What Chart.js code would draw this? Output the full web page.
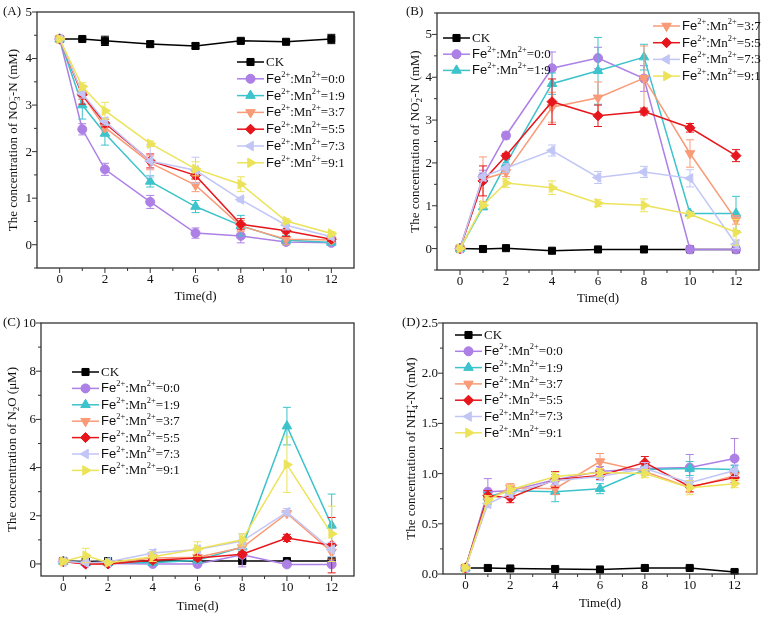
<!DOCTYPE html>
<html>
<head>
<meta charset="utf-8">
<script src="https://cdn.jsdelivr.net/npm/chart.js@4.4.0/dist/chart.umd.min.js"></script>
<style>
  html, body { margin: 0; padding: 0; background: #fff; }
  #wrap { position: relative; width: 767px; height: 623px; }
  #wrap canvas { position: absolute; left: 0; top: 0; }
</style>
</head>
<body>
<div id="wrap">
  <canvas id="chartA" width="767" height="623"></canvas>
  <canvas id="chartB" width="767" height="623"></canvas>
  <canvas id="chartC" width="767" height="623"></canvas>
  <canvas id="chartD" width="767" height="623"></canvas>
</div>
<script>
// sampling days and treatments
const days = [0, 1, 2, 4, 6, 8, 10, 12];
const ratios = ['0:0', '1:9', '3:7', '5:5', '7:3', '9:1'];
const xTicks = [0, 2, 4, 6, 8, 10, 12];
const xMinor = [1, 3, 5, 7, 9, 11];

// (A) NO3- -N (mM): CK, 0:0, 1:9, 3:7, 5:5, 7:3, 9:1
const no3Values = [
  [4.42, 4.42, 4.38, 4.31, 4.27, 4.38, 4.36, 4.42],
  [4.42, 2.48, 1.62, 0.92, 0.25, 0.19, 0.06, 0.04],
  [4.42, 3.00, 2.39, 1.36, 0.82, 0.41, 0.10, 0.05],
  [4.42, 3.22, 2.52, 1.76, 1.28, 0.40, 0.12, 0.10],
  [4.42, 3.22, 2.61, 1.80, 1.49, 0.44, 0.30, 0.12],
  [4.42, 3.25, 2.65, 1.80, 1.60, 0.97, 0.42, 0.17],
  [4.42, 3.40, 2.88, 2.17, 1.63, 1.30, 0.51, 0.24]
];
const no3Errors = [
  [0.03, 0.04, 0.10, 0.06, 0.06, 0.04, 0.04, 0.10],
  [0.03, 0.12, 0.13, 0.14, 0.11, 0.15, 0.05, 0.04],
  [0.03, 0.30, 0.25, 0.12, 0.13, 0.22, 0.10, 0.05],
  [0.03, 0.10, 0.08, 0.15, 0.14, 0.12, 0.12, 0.05],
  [0.03, 0.20, 0.08, 0.15, 0.08, 0.12, 0.12, 0.05],
  [0.03, 0.10, 0.08, 0.35, 0.28, 0.05, 0.10, 0.05],
  [0.03, 0.08, 0.18, 0.06, 0.15, 0.16, 0.05, 0.04]
];
const no3Ticks = [0, 1, 2, 3, 4, 5];
const no3Minor = [-0.5, 0.5, 1.5, 2.5, 3.5, 4.5];

// (B) NO2- -N (mM)
const no2Values = [
  [0, -0.01, 0.01, -0.05, -0.02, -0.02, -0.02, -0.02],
  [0, 1.68, 2.64, 4.21, 4.45, 3.97, -0.02, -0.02],
  [0, 0.97, 1.98, 3.85, 4.15, 4.47, 0.82, 0.82],
  [0, 1.62, 1.78, 3.30, 3.52, 3.98, 2.22, 0.67],
  [0, 1.58, 2.17, 3.43, 3.10, 3.20, 2.82, 2.17],
  [0, 1.68, 1.88, 2.29, 1.66, 1.79, 1.64, 0.10],
  [0, 1.01, 1.53, 1.42, 1.06, 1.01, 0.80, 0.38]
];
const no2Errors = [
  [0.02, 0.03, 0.03, 0.05, 0.03, 0.03, 0.02, 0.02],
  [0.02, 0.15, 0.08, 0.38, 0.25, 0.30, 0.02, 0.02],
  [0.02, 0.06, 0.10, 0.25, 0.78, 0.30, 0.05, 0.40],
  [0.02, 0.52, 0.10, 0.35, 0.37, 0.75, 0.32, 0.10],
  [0.02, 0.35, 0.05, 0.53, 0.25, 0.08, 0.10, 0.14],
  [0.02, 0.10, 0.10, 0.13, 0.14, 0.13, 0.20, 0.10],
  [0.02, 0.06, 0.10, 0.16, 0.08, 0.15, 0.05, 0.30]
];
const no2Ticks = [0, 1, 2, 3, 4, 5];
const no2Minor = [-0.5, 0.5, 1.5, 2.5, 3.5, 4.5, 5.5];

// (C) N2O (uM)
const n2oValues = [
  [0.12, 0.10, 0.12, 0.12, 0.12, 0.12, 0.12, 0.12],
  [0.10, 0.02, 0.02, 0.00, 0.00, 0.38, -0.02, -0.02],
  [0.10, 0.05, 0.05, 0.05, 0.15, 0.70, 5.72, 1.60],
  [0.10, 0.00, 0.02, 0.25, 0.28, 0.68, 2.10, 0.50],
  [0.10, 0.00, 0.00, 0.15, 0.25, 0.40, 1.08, 0.78],
  [0.10, 0.05, 0.08, 0.45, 0.60, 0.95, 2.15, 0.60],
  [0.10, 0.35, 0.05, 0.30, 0.62, 1.00, 4.12, 1.25]
];
const n2oErrors = [
  [0.05, 0.05, 0.05, 0.05, 0.05, 0.05, 0.05, 0.05],
  [0.10, 0.05, 0.05, 0.05, 0.05, 0.50, 0.05, 0.05],
  [0.10, 0.05, 0.05, 0.05, 0.10, 0.20, 0.78, 1.30],
  [0.10, 0.05, 0.05, 0.15, 0.10, 0.20, 0.10, 0.30],
  [0.10, 0.05, 0.05, 0.10, 0.10, 0.10, 0.15, 1.15],
  [0.10, 0.05, 0.05, 0.15, 0.10, 0.30, 0.15, 0.30],
  [0.10, 0.30, 0.05, 0.20, 0.30, 0.25, 1.15, 1.15]
];
const n2oTicks = [0, 2, 4, 6, 8, 10];
const n2oMinor = [1, 3, 5, 7, 9];

// (D) NH4+ -N (mM)
const nh4Values = [
  [0.06, 0.06, 0.055, 0.05, 0.045, 0.06, 0.06, 0.02],
  [0.06, 0.82, 0.83, 0.94, 1.02, 1.05, 1.06, 1.15],
  [0.06, 0.77, 0.83, 0.82, 0.85, 1.04, 1.05, 1.04],
  [0.06, 0.74, 0.86, 0.85, 1.12, 1.02, 0.86, 0.98],
  [0.06, 0.78, 0.76, 0.94, 0.98, 1.11, 0.87, 0.96],
  [0.06, 0.70, 0.80, 0.93, 0.97, 1.05, 0.91, 1.03],
  [0.06, 0.74, 0.84, 0.97, 1.01, 1.00, 0.86, 0.90]
];
const nh4Errors = [
  [0.01, 0.01, 0.01, 0.01, 0.01, 0.01, 0.01, 0.02],
  [0.01, 0.13, 0.04, 0.05, 0.05, 0.05, 0.13, 0.20],
  [0.01, 0.04, 0.04, 0.10, 0.05, 0.04, 0.07, 0.04],
  [0.01, 0.04, 0.04, 0.06, 0.08, 0.04, 0.05, 0.05],
  [0.01, 0.05, 0.05, 0.08, 0.04, 0.06, 0.05, 0.05],
  [0.01, 0.04, 0.04, 0.04, 0.04, 0.06, 0.05, 0.06],
  [0.01, 0.04, 0.04, 0.04, 0.04, 0.04, 0.07, 0.04]
];
const nh4Ticks = [0, 0.5, 1.0, 1.5, 2.0, 2.5];
const nh4Minor = [0.25, 0.75, 1.25, 1.75, 2.25];

// styles
const seriesColors = ['#000000', '#ad80e6', '#3cc3cb', '#f99b78', '#e6161c', '#c2c6f6', '#ece35a'];
const seriesShapes = ['rect', 'circle', 'triangle', 'triangle', 'rectRot', 'triangle', 'triangle'];
const seriesRotation = [0, 0, 0, 180, 0, 270, 90];
const seriesRadius = [5, 4.5, 5.5, 5.5, 5, 5.5, 5.5];
const SERIF = '"Liberation Serif", "Times New Roman", serif';
const SANS = '"Liberation Sans", Arial, sans-serif';
const FS = 13;

// draws text made of parts [text, kind, keepX]
function drawRich(ctx, parts, x, y, size, measureOnly) {
  let cx = x;
  parts.forEach(([t, k, keep]) => {
    const small = k === 'sup' || k === 'sub';
    const fs = small ? size * 0.65 : size;
    ctx.font = fs + 'px ' + (k === 'sans' ? SANS : SERIF);
    const dy = k === 'sup' ? -size * 0.36 : k === 'sub' ? size * 0.28 : 0;
    if (!measureOnly) ctx.fillText(t, cx, y + dy);
    if (!keep) cx += ctx.measureText(t).width;
  });
  return cx - x;
}

function legendParts(label) {
  if (label === 'CK') return [['CK', '']];
  const r = label.split('=')[1];
  return [['Fe', 'sans'], ['2+', 'sup'], [':Mn', ''], ['2+', 'sup'], ['=' + r, '']];
}

function makeDecor(p) {
  return {
    id: 'decor' + p.tag,
    beforeDatasetDraw(chart, args) {
      const ds = chart.data.datasets[args.index];
      const xs = chart.scales.x, ys = chart.scales.y, ctx = chart.ctx;
      ctx.save();
      ctx.strokeStyle = ds.borderColor;
      ctx.lineWidth = 1;
      ds.data.forEach((pt, i) => {
        const e = ds.errors[i];
        const px = xs.getPixelForValue(pt.x);
        const t = ys.getPixelForValue(pt.y + e), b = ys.getPixelForValue(pt.y - e);
        ctx.beginPath();
        ctx.moveTo(px, t); ctx.lineTo(px, b);
        ctx.moveTo(px - 4, t); ctx.lineTo(px + 4, t);
        ctx.moveTo(px - 4, b); ctx.lineTo(px + 4, b);
        ctx.stroke();
      });
      ctx.restore();
    },
    afterDraw(chart) {
      const ctx = chart.ctx, a = chart.chartArea;
      const xs = chart.scales.x, ys = chart.scales.y;
      ctx.save();
      // frame
      ctx.strokeStyle = '#333';
      ctx.lineWidth = 1.3;
      ctx.strokeRect(a.left, a.top, a.right - a.left, a.bottom - a.top);
      // ticks, outward
      ctx.lineWidth = 1;
      ctx.beginPath();
      xTicks.forEach(v => { const x = xs.getPixelForValue(v); ctx.moveTo(x, a.bottom); ctx.lineTo(x, a.bottom + 5); });
      xMinor.forEach(v => { const x = xs.getPixelForValue(v); ctx.moveTo(x, a.bottom); ctx.lineTo(x, a.bottom + 3); });
      p.yTicks.forEach(v => { const y = ys.getPixelForValue(v); ctx.moveTo(a.left, y); ctx.lineTo(a.left - 5, y); });
      p.yMinor.forEach(v => { const y = ys.getPixelForValue(v); ctx.moveTo(a.left, y); ctx.lineTo(a.left - 3, y); });
      ctx.stroke();

      // tick labels
      ctx.fillStyle = '#111';
      ctx.font = FS + 'px ' + SERIF;
      ctx.textBaseline = 'middle';
      ctx.textAlign = 'center';
      xTicks.forEach(v => ctx.fillText(String(v), xs.getPixelForValue(v), a.bottom + 12));
      ctx.textAlign = 'right';
      p.yTicks.forEach(v => ctx.fillText(p.fmt(v), a.left - 5, ys.getPixelForValue(v) + 0.5));

      // legend
      ctx.textAlign = 'left';
      p.legend.forEach(col => {
        col.items.forEach((idx, r) => {
          const ds = chart.data.datasets[idx];
          const y = col.y + r * col.step;
          ctx.strokeStyle = ds.borderColor;
          ctx.lineWidth = 1.5;
          ctx.beginPath();
          ctx.moveTo(col.x, y); ctx.lineTo(col.x + 27, y);
          ctx.stroke();
          ctx.fillStyle = ds.borderColor;
          ctx.lineWidth = 1;
          Chart.helpers.drawPoint(ctx, { pointStyle: ds.pointStyle, rotation: ds.pointRotation, radius: ds.pointRadius, borderWidth: 1 }, col.x + 13.5, y);
          ctx.fill();
          ctx.fillStyle = '#111';
          drawRich(ctx, legendParts(ds.label), col.x + 29, y + 0.5, FS);
        });
      });

      // x title
      ctx.textAlign = 'center';
      ctx.font = FS + 'px ' + SERIF;
      ctx.fillText('Time(d)', (a.left + a.right) / 2, p.xTitleY);

      // y title, rotated
      ctx.textAlign = 'left';
      const w = drawRich(ctx, p.yTitle, 0, 0, FS, true);
      ctx.translate(p.yTitleX, (a.top + a.bottom) / 2);
      ctx.rotate(-Math.PI / 2);
      drawRich(ctx, p.yTitle, -w / 2, 0, FS);
      ctx.setTransform(1, 0, 0, 1, 0, 0);

      // panel tag
      ctx.font = FS + 'px ' + SERIF;
      ctx.fillText('(' + p.tag + ')', p.tagX, p.tagY);
      ctx.restore();
    }
  };
}

function makePanel(id, p) {
  const datasets = p.values.map((vals, i) => ({
    label: i === 0 ? 'CK' : 'Fe\u00b2\u207a:Mn\u00b2\u207a=' + ratios[i - 1],
    data: days.map((d, j) => ({ x: d, y: vals[j] })),
    errors: p.errors[i],
    borderColor: seriesColors[i],
    backgroundColor: seriesColors[i],
    pointBackgroundColor: seriesColors[i],
    pointBorderColor: seriesColors[i],
    pointStyle: seriesShapes[i],
    pointRotation: seriesRotation[i],
    pointRadius: seriesRadius[i],
    pointBorderWidth: 1,
    borderWidth: 1.5,
    order: -i
  }));
  const area = p.area;
  return new Chart(document.getElementById(id), {
    type: 'line',
    data: { datasets },
    options: {
      responsive: false,
      animation: false,
      devicePixelRatio: 1,
      layout: { padding: { left: 0, top: area.top, right: 767 - area.right, bottom: 0 } },
      plugins: { legend: { display: false }, tooltip: { enabled: false } },
      scales: {
        x: {
          type: 'linear', min: -1, max: 13,
          grid: { display: false }, border: { display: false },
          ticks: { display: false },
          afterFit: s => { s.height = 623 - area.bottom; }
        },
        y: {
          type: 'linear', min: p.yMin, max: p.yMax,
          grid: { display: false }, border: { display: false },
          ticks: { display: false },
          afterFit: s => { s.width = area.left; }
        }
      }
    },
    plugins: [makeDecor(p)]
  });
}

const intFmt = v => String(v);

makePanel('chartA', {
  tag: 'A', values: no3Values, errors: no3Errors, yMin: -0.5, yMax: 5,
  yTicks: no3Ticks, yMinor: no3Minor, fmt: intFmt,
  area: { left: 37, top: 12, right: 354, bottom: 268 },
  yTitle: [['The concentration of NO', ''], ['3', 'sub', true], ['\u2212', 'sup'], ['-N (mM)', '']],
  yTitleX: 14, xTitleY: 297, tagX: 3, tagY: 12,
  legend: [{ x: 237, y: 62, step: 16.8, items: [0, 1, 2, 3, 4, 5, 6] }]
});

makePanel('chartB', {
  tag: 'B', values: no2Values, errors: no2Errors, yMin: -0.5, yMax: 5.5,
  yTicks: no2Ticks, yMinor: no2Minor, fmt: intFmt,
  area: { left: 437, top: 13, right: 759, bottom: 270 },
  yTitle: [['The concentration of NO', ''], ['2', 'sub', true], ['\u2212', 'sup'], ['-N (mM)', '']],
  yTitleX: 416, xTitleY: 299, tagX: 406, tagY: 12,
  legend: [
    { x: 443, y: 38, step: 16.2, items: [0, 1, 2] },
    { x: 653, y: 26, step: 16.7, items: [3, 4, 5, 6] }
  ]
});

makePanel('chartC', {
  tag: 'C', values: n2oValues, errors: n2oErrors, yMin: -0.5, yMax: 10,
  yTicks: n2oTicks, yMinor: n2oMinor, fmt: intFmt,
  area: { left: 41, top: 323, right: 354, bottom: 576 },
  yTitle: [['The concentration of N', ''], ['2', 'sub'], ['O (\u03bcM)', '']],
  yTitleX: 13, xTitleY: 607, tagX: 3, tagY: 323,
  legend: [{ x: 72, y: 372, step: 16.4, items: [0, 1, 2, 3, 4, 5, 6] }]
});

makePanel('chartD', {
  tag: 'D', values: nh4Values, errors: nh4Errors, yMin: 0, yMax: 2.5,
  yTicks: nh4Ticks, yMinor: nh4Minor, fmt: v => v.toFixed(1),
  area: { left: 443, top: 323, right: 757, bottom: 574 },
  yTitle: [['The concentration of NH', ''], ['4', 'sub', true], ['+', 'sup'], ['-N (mM)', '']],
  yTitleX: 412, xTitleY: 604, tagX: 402, tagY: 323,
  legend: [{ x: 455, y: 335, step: 16.3, items: [0, 1, 2, 3, 4, 5, 6] }]
});
</script>
</body>
</html>
